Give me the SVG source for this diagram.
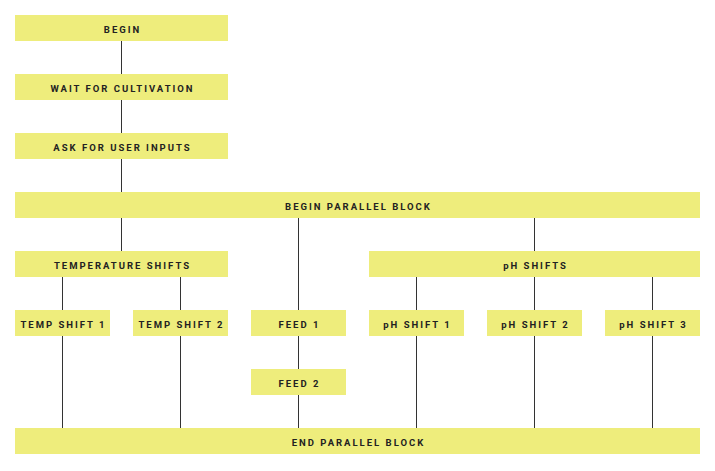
<svg xmlns="http://www.w3.org/2000/svg" width="715" height="471" viewBox="0 0 715 471">
<style>
.b{fill:#eeed7c}
.t{font-family:Roboto,"Liberation Sans",sans-serif;font-weight:700;font-size:9.5px;letter-spacing:2px;fill:#222;text-anchor:middle}
.c line{stroke:#333;stroke-width:1}
</style>
<rect width="715" height="471" fill="#fff"/>
<g class="c" id="connectors">
<line x1="121.5" y1="41" x2="121.5" y2="74"/>
<line x1="121.5" y1="100" x2="121.5" y2="133"/>
<line x1="121.5" y1="159" x2="121.5" y2="192"/>
<line x1="121.5" y1="218" x2="121.5" y2="251"/>
<line x1="298.5" y1="218" x2="298.5" y2="310"/>
<line x1="534.5" y1="218" x2="534.5" y2="251"/>
<line x1="62.5" y1="277" x2="62.5" y2="310"/>
<line x1="180.5" y1="277" x2="180.5" y2="310"/>
<line x1="416.5" y1="277" x2="416.5" y2="310"/>
<line x1="534.5" y1="277" x2="534.5" y2="310"/>
<line x1="652.5" y1="277" x2="652.5" y2="310"/>
<line x1="62.5" y1="336" x2="62.5" y2="428"/>
<line x1="180.5" y1="336" x2="180.5" y2="428"/>
<line x1="298.5" y1="336" x2="298.5" y2="369"/>
<line x1="298.5" y1="395" x2="298.5" y2="428"/>
<line x1="416.5" y1="336" x2="416.5" y2="428"/>
<line x1="534.5" y1="336" x2="534.5" y2="428"/>
<line x1="652.5" y1="336" x2="652.5" y2="428"/>
</g>
<g id="begin"><rect class="b" x="15" y="15" width="213" height="26"/><text class="t" x="122.5" y="33">BEGIN</text></g>
<g id="wait"><rect class="b" x="15" y="74" width="213" height="26"/><text class="t" x="122.5" y="92">WAIT FOR CULTIVATION</text></g>
<g id="ask"><rect class="b" x="15" y="133" width="213" height="26"/><text class="t" x="122.5" y="151">ASK FOR USER INPUTS</text></g>
<g id="beginpar"><rect class="b" x="15" y="192" width="685" height="26"/><text class="t" x="358.5" y="210">BEGIN PARALLEL BLOCK</text></g>
<g id="temps"><rect class="b" x="15" y="251" width="213" height="26"/><text class="t" x="122.5" y="269">TEMPERATURE SHIFTS</text></g>
<g id="phs"><rect class="b" x="369" y="251" width="331" height="26"/><text class="t" x="535.5" y="269">pH SHIFTS</text></g>
<g id="ts1"><rect class="b" x="15" y="310" width="95" height="26"/><text class="t" x="63.5" y="328">TEMP SHIFT 1</text></g>
<g id="ts2"><rect class="b" x="133" y="310" width="95" height="26"/><text class="t" x="181.5" y="328">TEMP SHIFT 2</text></g>
<g id="feed1"><rect class="b" x="251" y="310" width="95" height="26"/><text class="t" x="299.5" y="328">FEED 1</text></g>
<g id="ph1"><rect class="b" x="369" y="310" width="95" height="26"/><text class="t" x="417.5" y="328">pH SHIFT 1</text></g>
<g id="ph2"><rect class="b" x="487" y="310" width="95" height="26"/><text class="t" x="535.5" y="328">pH SHIFT 2</text></g>
<g id="ph3"><rect class="b" x="605" y="310" width="95" height="26"/><text class="t" x="653.5" y="328">pH SHIFT 3</text></g>
<g id="feed2"><rect class="b" x="251" y="369" width="95" height="26"/><text class="t" x="299.5" y="387">FEED 2</text></g>
<g id="endpar"><rect class="b" x="15" y="428" width="685" height="26"/><text class="t" x="358.5" y="446">END PARALLEL BLOCK</text></g>
</svg>
